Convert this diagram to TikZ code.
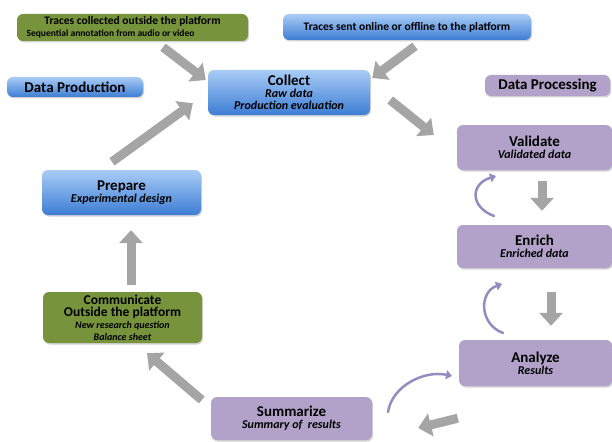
\documentclass[tikz,border=0pt]{standalone}
\usepackage{fontspec}
\setmainfont{Carlito}
\usepackage{tikz}
\usetikzlibrary{arrows.meta, positioning, calc, shadows}

\definecolor{blueTop}{HTML}{A9CCF6}
\definecolor{blueBot}{HTML}{3D7DD4}
\definecolor{lilac}{HTML}{B2A1C8}
\definecolor{olive}{HTML}{77933C}
\definecolor{arrowGrey}{HTML}{A5A5A5}
\definecolor{loopCol}{HTML}{948BC0}

\newcommand{\boxtitle}[1]{{\fontsize{15}{15}\selectfont #1}}
\newcommand{\boxsub}[1]{{\fontsize{12}{14}\selectfont\itshape #1}}

\begin{document}
\begin{tikzpicture}[x=1pt, y=-1pt,
    box/.style={rounded corners=6pt, align=center, inner sep=0pt, font=\bfseries,
        drop shadow={shadow xshift=1pt, shadow yshift=-1.5pt, opacity=0.35}},
    bluebox/.style={box, top color=blueTop, bottom color=blueBot},
    lilacbox/.style={box, fill=lilac},
    olivebox/.style={box, fill=olive},
    blockarrow/.style={draw=arrowGrey, line width=9pt, -{Triangle[length=13pt, width=23pt]}},
    looparrow/.style={draw=loopCol, line width=2.5pt, line cap=round, -{Triangle[length=6pt, width=9pt]}}]
    \useasboundingbox (0,0) rectangle (612,441);

    % sources and headings
    \node[olivebox, minimum width=231pt, minimum height=27pt] (outside) at (132.5,27.5)
        {{\fontsize{11.5}{12}\selectfont Traces collected outside the platform}\\
         {\fontsize{9.5}{10}\selectfont Sequential annotation from audio or video\hspace*{44pt}}};
    \node[bluebox, minimum width=248pt, minimum height=26pt] (online) at (407,27)
        {\fontsize{11.5}{12}\selectfont Traces sent online or offline to the platform};
    \node[bluebox, minimum width=136pt, minimum height=20pt] (production) at (75,87)
        {\fontsize{15}{15}\selectfont Data Production};
    \node[lilacbox, minimum width=125pt, minimum height=21pt] (processing) at (547.5,85.5)
        {\fontsize{15}{15}\selectfont Data Processing};

    % cycle
    \node[bluebox, minimum width=162pt, minimum height=45pt] (collect) at (289,92.5)
        {\boxtitle{Collect}\\ \boxsub{Raw data}\\ \boxsub{Production evaluation}};
    \node[lilacbox, minimum width=155pt, minimum height=45pt] (validate) at (534.5,147.5)
        {\boxtitle{Validate}\\ \boxsub{Validated data}};
    \node[lilacbox, minimum width=155pt, minimum height=43pt] (enrich) at (534.5,246.5)
        {\boxtitle{Enrich}\\ \boxsub{Enriched data}};
    \node[lilacbox, minimum width=153pt, minimum height=46pt] (analyze) at (535.5,363)
        {\boxtitle{Analyze}\\ \boxsub{Results}};
    \node[lilacbox, minimum width=161pt, minimum height=43pt] (summarize) at (291.5,418.5)
        {\boxtitle{Summarize}\\ \boxsub{Summary of~ results}};
    \node[olivebox, minimum width=159pt, minimum height=51pt] (communicate) at (122.5,317.5)
        {{\fontsize{13.5}{16}\selectfont Communicate}\\
         {\fontsize{13.5}{16}\selectfont Outside the platform}\\
         {\fontsize{10}{11}\selectfont\itshape New research question}\\
         {\fontsize{10}{11}\selectfont\itshape Balance sheet}};
    \node[bluebox, minimum width=159pt, minimum height=45pt] (prepare) at (121.5,192.5)
        {\boxtitle{Prepare}\\ \boxsub{Experimental design}};

    % grey arrows
    \draw[blockarrow] ($(outside.south)+(30.5,6)$) -- ($(collect.west)+(-2,-12.5)$);
    \draw[blockarrow] ($(online.south)+(8,6)$) -- ($(collect.east)+(2,-14.5)$);
    \draw[blockarrow] ($(collect.east)+(20,7.5)$) -- ($(validate.west)+(-23,-12.5)$);
    \draw[blockarrow] ($(validate.south)+(7.5,11)$) -- ($(enrich.north)+(7.5,-14)$);
    \draw[blockarrow] ($(enrich.south)+(16.5,24)$) -- ($(analyze.north)+(15.5,-14)$);
    \draw[blockarrow] ($(analyze.south west)+(-1,32)$) -- ($(summarize.east)+(46,9.5)$);
    \draw[blockarrow] ($(summarize.west)+(-9,-18.5)$) -- ($(communicate.south)+(24.5,10)$);
    \draw[blockarrow] ($(communicate.north)+(8.5,-7)$) -- ($(prepare.south)+(9.5,15)$);
    \draw[blockarrow] ($(prepare.north)+(-9.5,-8)$) -- ($(collect.south west)+(-15,-12)$);

    % loops
    \coordinate (loopA) at (494,216);
    \coordinate (loopB) at (496,176);
    \coordinate (loopC) at (503,333);
    \coordinate (loopD) at (502,284);
    \coordinate (loopE) at (388,412);
    \coordinate (loopF) at (452,376);
    \draw[looparrow] (loopA) .. controls (470,207) and (470,184) .. (loopB);
    \draw[looparrow] (loopC) .. controls (479,324) and (479,292) .. (loopD);
    \draw[looparrow] (loopE) .. controls (392,386) and (424,370) .. (loopF);
\end{tikzpicture}
\end{document}
